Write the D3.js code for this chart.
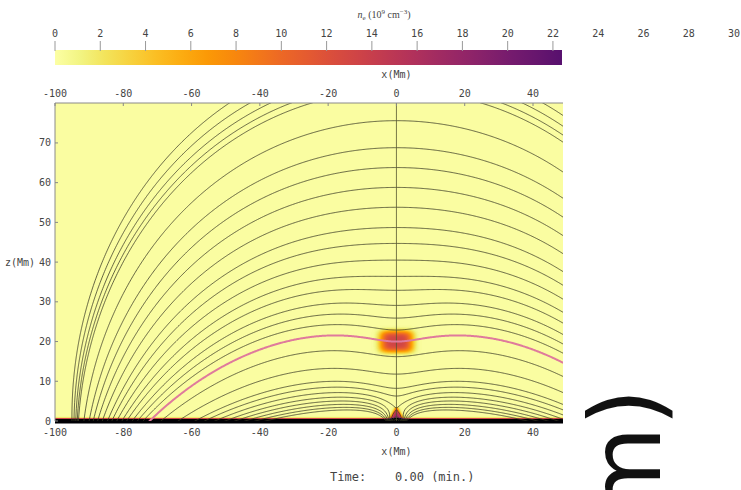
<!DOCTYPE html>
<html>
<head>
<meta charset="utf-8">
<script src="https://cdn.jsdelivr.net/npm/d3@7"></script>
<style>
  body { margin: 0; background: #fff; }
  svg { display: block; }
  text { font-family: "DejaVu Sans Mono", monospace; fill: #444; }
</style>
</head>
<body>
<svg id="chart" width="741" height="490"></svg>
<script>
// ---- colour bar: electron density n_e (10^9 cm^-3)
const densityTicks = [0, 2, 4, 6, 8, 10, 12, 14, 16, 18, 20, 22, 24, 26, 28, 30];
const densityBarEnd = 22.4;

// ---- axes (Mm)
const xTicks = [-100, -80, -60, -40, -20, 0, 20, 40];
const zTicks = [0, 10, 20, 30, 40, 50, 60, 70];

// ---- magnetic field: line sources below the photosphere (left half; the right
//      half is the mirror image with opposite sign) and the prominence current
const sourceX = [-92, -1.5];
const sourceDepth = [22, 1.5];
const sourceFlux = [1, -0.192];
const currentPos = [0, 20], currentStrength = 0.06, currentCore = 9;

// ---- field lines, picked by where they cross a reference line (Mm)
const axisLineZ = [75.6, 68.8, 63.8, 58.8, 53.8, 48.7, 44.7, 40.5, 36.4, 32.9, 29.1, 25.9, 22.9, 16.2, 11.8]; // heights on x = 0
const edgeTopX = [-49, -43, -37, -31, -25];                    // where the outer lines leave through z = 80
const lobeLineZ = [9.0, 7.5, 6.1, 4.9, 3.9, 3.0, 2.2, 1.5];    // heights on x = -30

// ---- plasma: background, chromosphere, prominence blob, footpoint spike
const backgroundDensity = 0.2;
const chromosphereDensity = 2500, chromosphereScale = 0.12;
const blobCenter = [0, 20], blobHalf = [4.8, 2.7], blobPeak = 13;
const spikeBase = 2.2, spikeTop = 3.4, spikePeak = 17;

const timeLabel = "Time:    0.00 (min.)";

// ---------------------------------------------------------------------
const svg = d3.select("#chart");

const x = d3.scaleLinear().domain([-100, 40]).range([55, 533]);
const z = d3.scaleLinear().domain([0, 80]).range([421, 103.2]);
const plotLeft = 55, plotRight = 563, plotTop = 103, plotBottom = 421, rasterBottom = 423.5;

const cbar = d3.scaleLinear().domain([0, 30]).range([55, 734]);
const color = d3.scaleSequential(t => d3.interpolateInferno(1 - t)).domain([0, 30]).clamp(true);

function flux(px, pz) {
  let a = 0;
  for (let i = 0; i < sourceX.length; i++) {
    const d = sourceDepth[i], q = sourceFlux[i], xs = sourceX[i];
    a += q * Math.atan2(pz + d, px - xs);
    a -= q * Math.atan2(pz + d, px + xs);
  }
  // line current with its photospheric image
  const dx = px - currentPos[0];
  const rImg = dx * dx + (pz + currentPos[1]) ** 2;
  const rCur = dx * dx + (pz - currentPos[1]) ** 2 + currentCore ** 2;
  a += 0.5 * currentStrength * Math.log(rImg / rCur);
  return a;
}

function density(px, pz) {
  let n = backgroundDensity;
  n += chromosphereDensity * Math.exp(-pz / chromosphereScale);
  const bx = (px - blobCenter[0]) / blobHalf[0], bz = (pz - blobCenter[1]) / blobHalf[1];
  n += blobPeak * Math.exp(-(bx ** 4) - (bz ** 4));
  if (pz < spikeTop) {
    const w = spikeBase * (1 - Math.max(pz, 0) / spikeTop);
    n += spikePeak / (1 + Math.exp((Math.abs(px) - w) / 0.3));
  }
  return n;
}

const defs = svg.append("defs");
defs.append("clipPath").attr("id", "plotClip").append("rect")
  .attr("x", plotLeft).attr("y", plotTop).attr("width", plotRight - plotLeft).attr("height", rasterBottom - plotTop);
defs.append("clipPath").attr("id", "lineClip").append("rect")
  .attr("x", plotLeft).attr("y", plotTop).attr("width", plotRight - plotLeft).attr("height", plotBottom - plotTop);

// ---- density raster
{
  const w = plotRight - plotLeft, h = Math.ceil(rasterBottom - plotTop);
  const canvas = document.createElement("canvas");
  canvas.width = w; canvas.height = h;
  const ctx = canvas.getContext("2d");
  const img = ctx.createImageData(w, h);
  for (let j = 0; j < h; j++) {
    const pz = z.invert(plotTop + j + 0.5);
    for (let i = 0; i < w; i++) {
      const px = x.invert(plotLeft + i + 0.5);
      const c = d3.rgb(color(density(px, pz)));
      const k = 4 * (j * w + i);
      img.data[k] = c.r; img.data[k + 1] = c.g; img.data[k + 2] = c.b; img.data[k + 3] = 255;
    }
  }
  ctx.putImageData(img, 0, 0);
  svg.append("image").attr("x", plotLeft).attr("y", plotTop).attr("width", w).attr("height", h)
    .attr("href", canvas.toDataURL()).attr("clip-path", "url(#plotClip)");
}

// ---- field lines (contours of the flux function)
{
  const x0 = -102, x1 = 52, z0 = -1, z1 = 82, step = 0.25;
  const nx = Math.round((x1 - x0) / step) + 1, nz = Math.round((z1 - z0) / step) + 1;
  const values = new Float64Array(nx * nz);
  for (let j = 0; j < nz; j++) for (let i = 0; i < nx; i++) values[i + j * nx] = flux(x0 + i * step, z0 + j * step);

  const proj = d3.geoTransform({
    point(gx, gz) { this.stream.point(x(x0 + (gx - 0.5) * step), z(z0 + (gz - 0.5) * step)); }
  });
  const path = d3.geoPath(proj);

  const levels = [
    ...axisLineZ.map(h => flux(0, h)),
    ...edgeTopX.map(tx => flux(tx, 80)),
    ...lobeLineZ.map(h => flux(-30, h))
  ];
  const contours = d3.contours().size([nx, nz]).thresholds(levels)(values);
  const g = svg.append("g").attr("clip-path", "url(#lineClip)");
  g.selectAll("path.fl").data(contours).join("path").attr("class", "fl")
    .attr("d", path).attr("fill", "none").attr("stroke", "#3b3b26").attr("stroke-width", 0.8);

  g.append("line").attr("x1", x(0)).attr("x2", x(0)).attr("y1", plotTop).attr("y2", plotBottom)
    .attr("stroke", "#55552f").attr("stroke-width", 0.8);

  // field line threading the prominence
  const pinkLevel = flux(blobCenter[0], blobCenter[1]);
  const pc = d3.contours().size([nx, nz]).thresholds([pinkLevel])(values);
  g.selectAll("path.pk").data(pc).join("path").attr("class", "pk")
    .attr("d", path).attr("fill", "none").attr("stroke", "#df7a9c").attr("stroke-width", 2);
}

// ---- frame and axes
svg.append("path").attr("d", `M${plotLeft},${plotBottom}V${plotTop}H${plotRight}`)
  .attr("fill", "none").attr("stroke", "#8a8a8a").attr("stroke-width", 1);

xTicks.forEach(v => {
  svg.append("line").attr("x1", x(v)).attr("x2", x(v)).attr("y1", plotTop).attr("y2", plotTop + 3).attr("stroke", "#888");
  svg.append("text").attr("x", x(v)).attr("y", 97).attr("text-anchor", "middle").attr("font-size", 10).text(v);
  svg.append("text").attr("x", x(v)).attr("y", 436).attr("text-anchor", "middle").attr("font-size", 10).text(v);
});
zTicks.forEach(v => {
  svg.append("line").attr("x1", plotLeft).attr("x2", plotLeft + 3).attr("y1", z(v)).attr("y2", z(v)).attr("stroke", "#888");
  svg.append("text").attr("x", 51).attr("y", z(v) + 3.5).attr("text-anchor", "end").attr("font-size", 10).text(v);
});
svg.append("text").attr("x", 5).attr("y", z(40) + 3.5).attr("font-size", 10).text("z(Mm)");
svg.append("text").attr("x", x(0)).attr("y", 78).attr("text-anchor", "middle").attr("font-size", 10).text("x(Mm)");
svg.append("text").attr("x", x(0)).attr("y", 455).attr("text-anchor", "middle").attr("font-size", 10).text("x(Mm)");
svg.append("text").attr("x", 330).attr("y", 481).attr("font-size", 12).style("white-space", "pre").text(timeLabel);

// ---- colour bar
{
  const grad = defs.append("linearGradient").attr("id", "cbGrad");
  d3.range(0, 1.0001, 0.05).forEach(t => {
    grad.append("stop").attr("offset", t).attr("stop-color", color(t * densityBarEnd));
  });
  svg.append("rect").attr("x", cbar(0)).attr("y", 50).attr("width", cbar(densityBarEnd) - cbar(0)).attr("height", 15)
    .attr("fill", "url(#cbGrad)");
  densityTicks.forEach(v => {
    if (v <= densityBarEnd) svg.append("line").attr("x1", cbar(v)).attr("x2", cbar(v)).attr("y1", 41).attr("y2", 51).attr("stroke", "#999");
    svg.append("text").attr("x", cbar(v)).attr("y", 36.5).attr("text-anchor", "middle").attr("font-size", 10).text(v);
  });
  const t = svg.append("text").attr("x", 384).attr("y", 18).attr("text-anchor", "middle")
    .style("font-family", "'Liberation Serif', serif").attr("font-size", 10).attr("fill", "#555");
  t.append("tspan").style("font-style", "italic").text("n");
  t.append("tspan").attr("font-size", 7).attr("dy", 2).text("e");
  t.append("tspan").attr("dy", -2).text(" (10");
  t.append("tspan").attr("font-size", 7).attr("dy", -4).text("9");
  t.append("tspan").attr("dy", 4).text(" cm");
  t.append("tspan").attr("font-size", 7).attr("dy", -4).text("\u22123");
  t.append("tspan").attr("dy", 4).text(")");
}

// ---- large rotated unit label on the right
svg.append("text").attr("transform", "translate(660,388) rotate(-90)").attr("text-anchor", "end")
  .style("font-family", "'DejaVu Sans', sans-serif").attr("font-size", 98).style("fill", "#111").text("(Mm)");
</script>
</body>
</html>
